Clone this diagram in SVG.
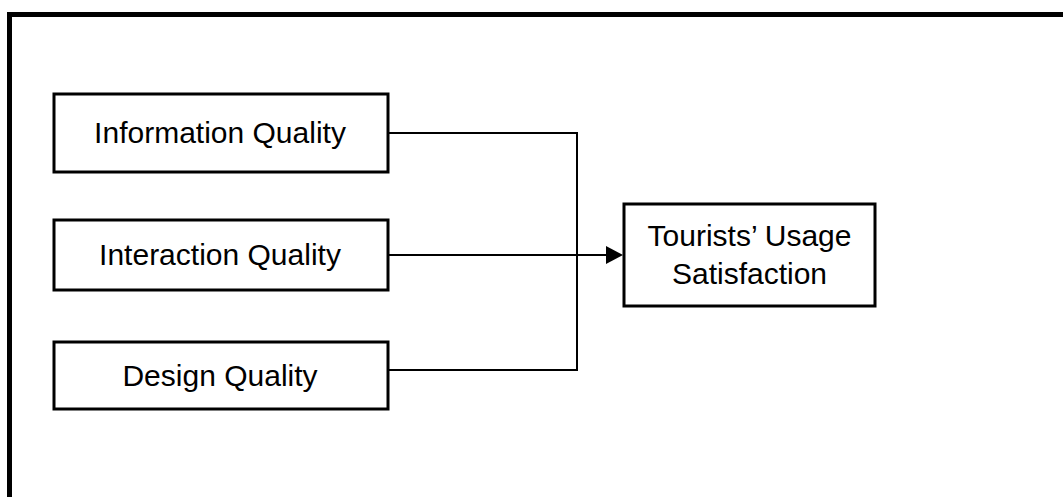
<svg xmlns="http://www.w3.org/2000/svg" width="1063" height="497" viewBox="0 0 1063 497">
<style>
.box{fill:#fff;stroke:#000;stroke-width:3}
.lbl{font-family:"Liberation Sans",Arial,sans-serif;font-size:30px;fill:#000;text-anchor:middle}
.conn{fill:none;stroke:#000;stroke-width:2}
</style>
<rect width="1063" height="497" fill="#fff"/>
<rect x="9.5" y="14.5" width="1080" height="520" fill="none" stroke="#000" stroke-width="5"/>
<g id="connectors">
<polyline class="conn" points="388,133 577,133 577,370 388,370"/>
<line class="conn" x1="388" y1="255" x2="607" y2="255"/>
<path d="M606,246 L623,255 L606,264 z" fill="#000"/>
</g>
<g id="info"><rect class="box" x="54" y="94" width="334" height="78"/><text class="lbl" x="220" y="143">Information Quality</text></g>
<g id="interaction"><rect class="box" x="54" y="220" width="334" height="70"/><text class="lbl" x="220" y="265">Interaction Quality</text></g>
<g id="design"><rect class="box" x="54" y="342" width="334" height="67"/><text class="lbl" x="220" y="386">Design Quality</text></g>
<g id="satisfaction"><rect class="box" x="624" y="204" width="251" height="102"/><text class="lbl" x="749.5" y="246">Tourists’ Usage</text><text class="lbl" x="749.5" y="284">Satisfaction</text></g>
</svg>
